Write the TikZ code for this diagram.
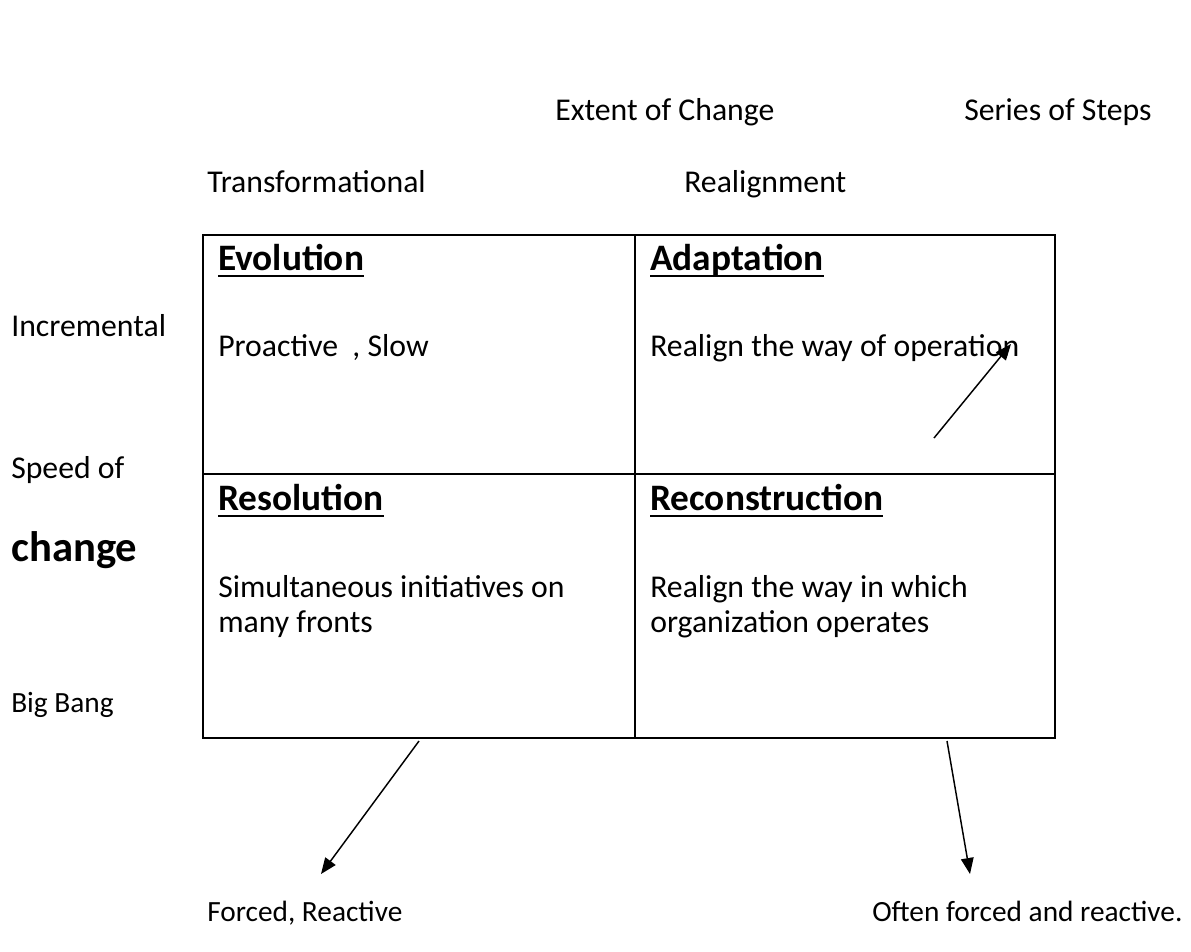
\documentclass[tikz,border=0pt]{standalone}
\usepackage{fontspec}
\setmainfont{Carlito}
\usetikzlibrary{arrows.meta}
\newcommand\hdul[1]{\setbox0\hbox{#1}\rlap{\rule[-5.6pt]{\wd0}{2.2pt}}\box0}
\tikzset{
  lbl/.style={inner sep=0pt, anchor=base west, font=\fontsize{23.8pt}{28pt}\selectfont},
  small/.style={lbl, font=\fontsize{22pt}{26pt}\selectfont},
  head/.style={lbl, font=\fontsize{28pt}{32pt}\selectfont\bfseries},
  grid/.style={line width=1.5pt},
  arr/.style={line width=1.1pt, -{Triangle[length=12pt,width=9.5pt]}}
}
\begin{document}
\begin{tikzpicture}[x=0.75pt,y=-0.75pt]
\useasboundingbox (0,0) rectangle (1191,951);
% matrix box
\draw[grid] (203,235) rectangle (1055,738);
\draw[grid] (635,235) -- (635,738);
\draw[grid] (203,474) -- (1055,474);
% top labels
\node[lbl] (extent) at (555,120) {Extent of Change};
\node[lbl] (series) at (964,120) {Series of Steps};
\node[lbl] (transf) at (207,192) {Transformational};
\node[lbl] (realign) at (684,192) {Realignment};
% left labels
\node[lbl] (incr) at (11,336) {Incremental};
\node[lbl] (speed) at (11,478) {Speed of};
\node[lbl, font=\fontsize{32pt}{36pt}\selectfont\bfseries] (change) at (11,561) {change};
\node[small] (bigbang) at (11,712) {Big Bang};
% quadrants
\node[head] (evol) at (218,270) {\hdul{Evolution}};
\node[lbl] (evoltxt) at (218,356) {Proactive\ \ , Slow};
\node[head] (adapt) at (650,270) {\hdul{Adaptation}};
\node[lbl] (adapttxt) at (650,356) {Realign the way of operation};
\node[head] (resol) at (218,510) {\hdul{Resolution}};
\node[lbl] (resol1) at (218,597) {Simultaneous initiatives on};
\node[lbl] (resol2) at (218,632) {many fronts};
\node[head] (recon) at (650,510) {\hdul{Reconstruction}};
\node[lbl] (recon1) at (650,597) {Realign the way in which};
\node[lbl] (recon2) at (650,632) {organization operates};
% bottom labels
\node[small] (forced) at (207,921) {Forced, Reactive};
\node[small] (often) at (872,921) {Often forced and reactive.};
% arrows
\coordinate (a1s) at (934,438);
\coordinate (a1e) at (1011,344);
\coordinate (a2s) at (419,741);
\coordinate (a2e) at (321,874);
\coordinate (a3s) at (947,741);
\coordinate (a3e) at (970,874);
\draw[arr] (a1s) -- (a1e);
\draw[arr] (a2s) -- (a2e);
\draw[arr] (a3s) -- (a3e);
\end{tikzpicture}
\end{document}
